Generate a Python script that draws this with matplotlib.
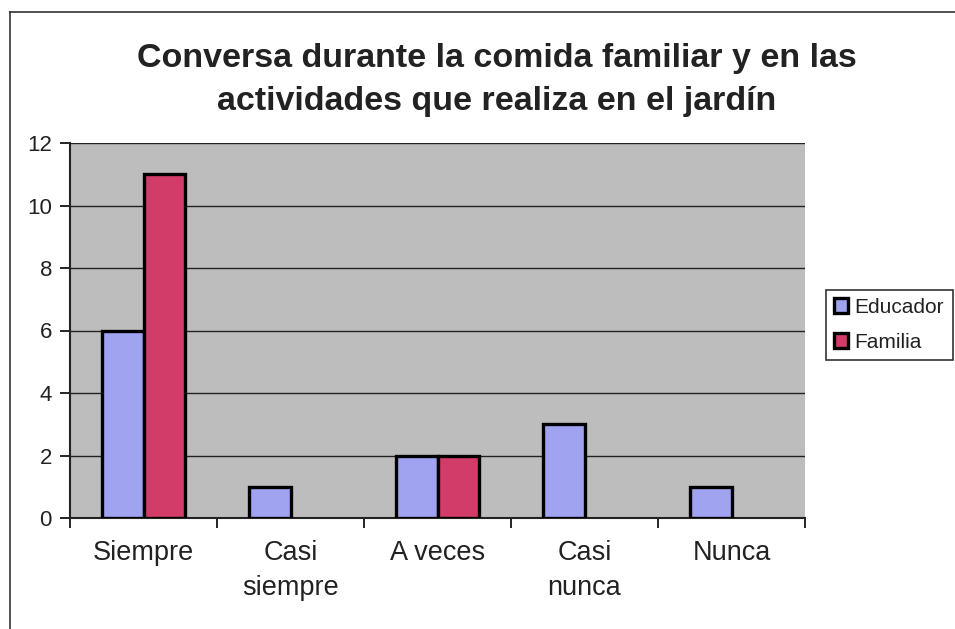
import numpy as np
import matplotlib
matplotlib.use("Agg")
import matplotlib.pyplot as plt
from matplotlib.lines import Line2D

categories = ["Siempre", "Casi\nsiempre", "A veces", "Casi\nnunca", "Nunca"]
educador = [6, 1, 2, 3, 1]
familia = [11, 0, 2, 0, 0]
series_names = ["Educador", "Familia"]
title = "Conversa durante la comida familiar y en las\nactividades que realiza en el jardín"

plt.rcParams['font.family'] = ['Liberation Sans', 'DejaVu Sans']

fig = plt.figure(figsize=(9.55, 6.29), dpi=100)
ax = fig.add_axes([70 / 955, 1 - 518 / 629, 735 / 955, 375 / 629])
ax.set_facecolor("#bdbdbd")

x = np.arange(len(categories))
w = 0.285
b1 = ax.bar(x - w / 2, educador, w, color="#9fa3f0", edgecolor="black",
            linewidth=2.4, label=series_names[0], zorder=3)
b2 = ax.bar(x + w / 2, familia, w, color="#d23c68", edgecolor="black",
            linewidth=2.4, label=series_names[1], zorder=3)
# empty bars leave no outline
for bars in (b1, b2):
    for r in bars:
        if r.get_height() == 0:
            r.set_linewidth(0)

ax.set_xlim(-0.5, len(categories) - 0.5)
ax.set_ylim(0, 12)
ax.set_yticks(range(0, 13, 2))
ax.yaxis.grid(True, color="#222222", linewidth=1, zorder=1)
ax.set_axisbelow(True)

ax.set_xticks(np.arange(-0.5, len(categories), 1))
ax.set_xticklabels([])
ax.set_xticks(x, minor=True)
ax.set_xticklabels(categories, minor=True, fontsize=19.5, linespacing=1.45,
                   color="#222222")
ax.tick_params(axis="x", which="minor", length=0, pad=16)
ax.tick_params(axis="x", which="major", length=7, width=1.2, direction="out")
ax.tick_params(axis="y", length=7, width=1.2, labelsize=16, pad=6,
               labelcolor="#222222")

for s in ["top", "right"]:
    ax.spines[s].set_visible(False)
for s in ["left", "bottom"]:
    ax.spines[s].set_linewidth(1.5)
    ax.spines[s].set_color("#222222")

leg = ax.legend(loc="center left", bbox_to_anchor=(1.028, 0.515), fontsize=15,
                frameon=True, fancybox=False, edgecolor="black",
                handlelength=0.7, handleheight=0.7, handletextpad=0.3,
                borderpad=0.4, labelspacing=0.75, borderaxespad=0)
leg.get_frame().set_linewidth(1.2)
for t in leg.get_texts():
    t.set_color("#222222")

fig.text(497 / 955, 1 - 80 / 629, title, ha="center", va="center", fontsize=24.5,
         fontweight="bold", color="#222222", linespacing=1.5)

# chart area frame
fig.add_artist(Line2D([10 / 955, 1], [1 - 12 / 629, 1 - 12 / 629],
                      transform=fig.transFigure, color="#333333", linewidth=1.2))
fig.add_artist(Line2D([10 / 955, 10 / 955], [0, 1 - 12 / 629],
                      transform=fig.transFigure, color="#333333", linewidth=1.2))

fig.savefig("out.png", dpi=100)
